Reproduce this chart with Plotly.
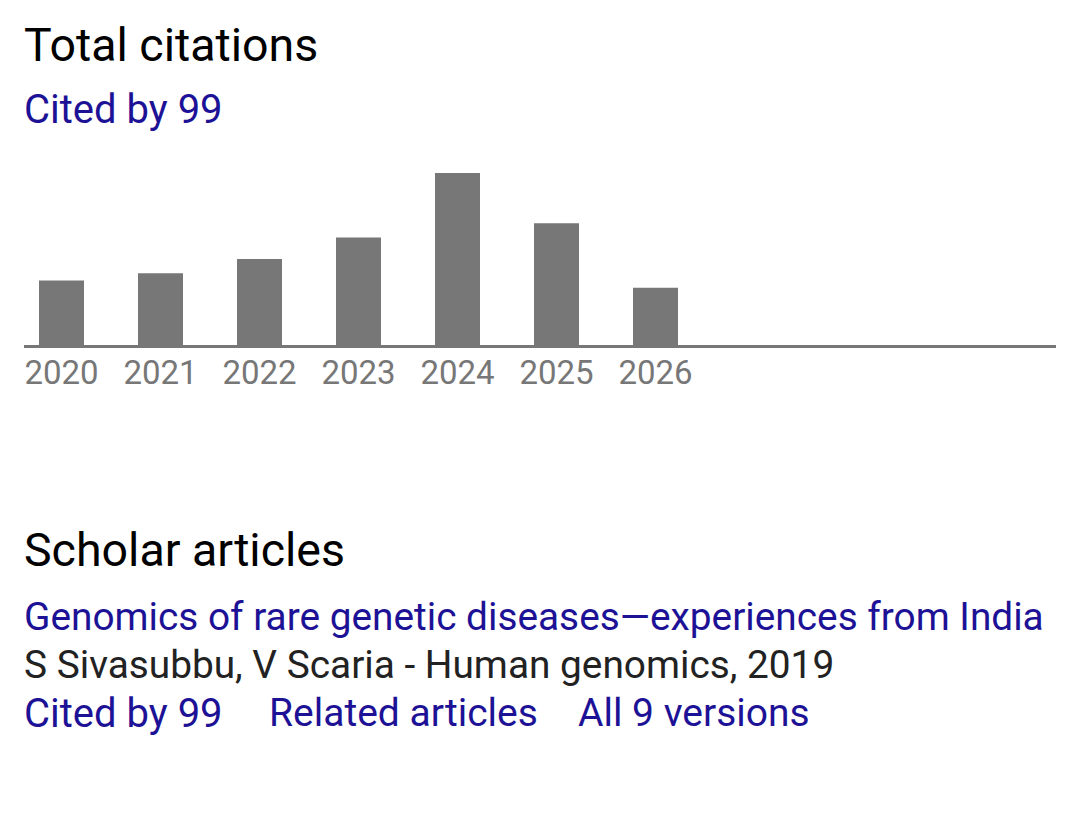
import plotly.graph_objects as go

years = [2020, 2021, 2022, 2023, 2024, 2025, 2026]
citations = [9, 10, 12, 15, 24, 17, 8]
tick_labels = [str(y) for y in years]

OFF = 8  # default page body margin
W, H = 1080 - OFF, 816 - OFF
L, R = 24 - OFF, 1056 - OFF
T, B = 173 - OFF, 345 - OFF
px_per_year = 99.0
first_center = 61.5 - OFF

def px_x(px):
    return (px - OFF - L) / (R - L)

def px_y(py):
    return (B - (py - OFF)) / (B - T)

BLUE = "#1d1296"
FONT = "Roboto"

fig = go.Figure()
fig.add_trace(go.Bar(
    x=years, y=citations,
    width=45 / px_per_year,
    marker=dict(color="#777777", line=dict(width=0)),
    hoverinfo="x+y",
))

x0 = years[0] - (first_center - L) / px_per_year
x1 = years[0] + (R - first_center) / px_per_year

fig.update_layout(
    width=W, height=H,
    margin=dict(l=L, r=W - R, t=T, b=H - B, pad=0),
    paper_bgcolor="white", plot_bgcolor="white",
    showlegend=False,
    font=dict(family=FONT),
    xaxis=dict(
        range=[x0, x1], tickmode="array", tickvals=years, ticktext=tick_labels,
        showgrid=False, zeroline=False, showline=True, linecolor="#777777", linewidth=3,
        ticks="", tickfont=dict(size=33, color="#777777", family=FONT),
        ticklabelstandoff=-4, fixedrange=True,
    ),
    yaxis=dict(range=[0, max(citations)], visible=False, fixedrange=True),
)

def text(s, px, py, size, color):
    fig.add_annotation(
        text=s, x=px_x(px), y=px_y(py), xref="paper", yref="paper",
        xanchor="left", yanchor="middle", showarrow=False,
        font=dict(size=size, color=color, family=FONT), align="left",
    )

text("Total citations", 22, 45, 46.5, "#000000")
text("Cited by 99", 22, 109, 40, BLUE)
text("Scholar articles", 22, 550, 46.5, "#000000")
text("Genomics of rare genetic diseases—experiences from India", 22, 616, 38.8, BLUE)
text("S Sivasubbu, V Scaria - Human genomics, 2019", 22, 664, 38.8, "#222222")
text("Cited by 99", 22, 713, 40, BLUE)
text("Related articles", 267, 713, 39, BLUE)
text("All 9 versions", 576, 713, 39, BLUE)

fig.write_html("out.html")
